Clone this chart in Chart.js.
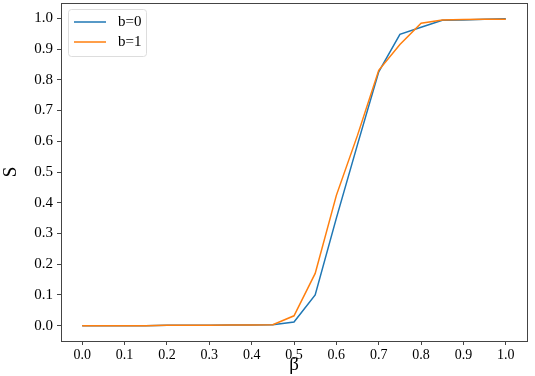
<!DOCTYPE html>
<html>
<head>
<meta charset="utf-8">
<script src="https://cdn.jsdelivr.net/npm/chart.js@4.4.0/dist/chart.umd.min.js"></script>
<style>
  html, body { margin: 0; padding: 0; background: #fff; }
  #wrap { width: 535px; height: 376px; }
</style>
</head>
<body>
<div id="wrap"><canvas id="sChart" width="535" height="376"></canvas></div>
<script>
// beta values (x) and the two series
const betas = [0, 0.05, 0.1, 0.15, 0.2, 0.25, 0.3, 0.35, 0.4, 0.45, 0.5,
               0.55, 0.6, 0.65, 0.7, 0.75, 0.8, 0.85, 0.9, 0.95, 1.0];
const sB0 = [0, 0, 0, 0, 0.001, 0.001, 0.001, 0.002, 0.002, 0.003, 0.012,
             0.10, 0.35, 0.59, 0.826, 0.948, 0.971, 0.994, 0.995, 0.997, 0.999];
const sB1 = [0, 0, 0, 0, 0.001, 0.001, 0.001, 0.002, 0.002, 0.003, 0.032,
             0.17, 0.424, 0.62, 0.831, 0.915, 0.984, 0.995, 0.996, 0.997, 0.997];
const seriesNames = ['b=0', 'b=1'];
const xTicks = [0, 0.1, 0.2, 0.3, 0.4, 0.5, 0.6, 0.7, 0.8, 0.9, 1.0];
const yTicks = [0, 0.1, 0.2, 0.3, 0.4, 0.5, 0.6, 0.7, 0.8, 0.9, 1.0];

const toPts = (ys) => betas.map((x, i) => ({ x: x, y: ys[i] }));
const serif = '"Liberation Serif", "DejaVu Serif", serif';

// frame around plot + legend box in upper left, like matplotlib
const framePlugin = {
  id: 'frame',
  afterDraw(chart) {
    const { ctx, chartArea: a } = chart;
    ctx.save();
    ctx.strokeStyle = '#444';
    ctx.lineWidth = 1;
    ctx.strokeRect(a.left + 0.5, a.top + 0.5, a.right - a.left, a.bottom - a.top);

    // legend
    const bx = a.left + 7, by = a.top + 6, bw = 78, bh = 47;
    ctx.fillStyle = 'rgba(255,255,255,0.8)';
    ctx.strokeStyle = '#ddd';
    ctx.beginPath();
    ctx.roundRect(bx + 0.5, by + 0.5, bw, bh, 3);
    ctx.fill();
    ctx.stroke();
    ctx.font = '15px ' + serif;
    ctx.textBaseline = 'middle';
    chart.data.datasets.forEach((ds, i) => {
      const yy = by + 13 + i * 20;
      ctx.strokeStyle = ds.borderColor;
      ctx.lineWidth = 1.5;
      ctx.beginPath();
      ctx.moveTo(bx + 6, yy);
      ctx.lineTo(bx + 38, yy);
      ctx.stroke();
      ctx.fillStyle = '#000';
      ctx.fillText(ds.label, bx + 50, yy);
    });
    ctx.restore();
  }
};

new Chart(document.getElementById('sChart'), {
  type: 'line',
  data: {
    datasets: [
      { label: seriesNames[0], data: toPts(sB0), borderColor: '#1f77b4', borderWidth: 1.5, pointRadius: 0, tension: 0, order: 1 },
      { label: seriesNames[1], data: toPts(sB1), borderColor: '#ff7f0e', borderWidth: 1.5, pointRadius: 0, tension: 0, order: 0 }
    ]
  },
  options: {
    responsive: false,
    animation: false,
    layout: { padding: { top: 3, right: 8, left: 0, bottom: 0 } },
    plugins: { legend: { display: false }, tooltip: { enabled: false } },
    scales: {
      x: {
        type: 'linear',
        min: -0.05,
        max: 1.05,
        afterBuildTicks: (s) => { s.ticks = xTicks.map(v => ({ value: v })); },
        afterFit: (s) => { s.height = 35; s.paddingLeft = 0; s.paddingRight = 0; },
        ticks: {
          color: '#000',
          font: { family: serif, size: 14 },
          padding: 2,
          maxRotation: 0,
          callback: (v) => Number(v).toFixed(1)
        },
        grid: { drawOnChartArea: false, drawTicks: true, tickLength: 4, color: '#444' },
        border: { color: '#444' },
        title: { display: true, text: 'β', color: '#000', font: { family: serif, size: 19 }, padding: { top: -3, bottom: 0 } }
      },
      y: {
        min: -0.05,
        max: 1.05,
        afterBuildTicks: (s) => { s.ticks = yTicks.map(v => ({ value: v })); },
        afterFit: (s) => { s.width = 61; s.paddingTop = 0; s.paddingBottom = 0; },
        ticks: {
          color: '#000',
          font: { family: serif, size: 15 },
          padding: 4,
          callback: (v) => Number(v).toFixed(1)
        },
        grid: { drawOnChartArea: false, drawTicks: true, tickLength: 4, color: '#444' },
        border: { color: '#444' },
        title: { display: true, text: 'S', color: '#000', font: { family: serif, size: 19 }, padding: { top: 0, bottom: 0 } }
      }
    }
  },
  plugins: [framePlugin]
});
</script>
</body>
</html>
